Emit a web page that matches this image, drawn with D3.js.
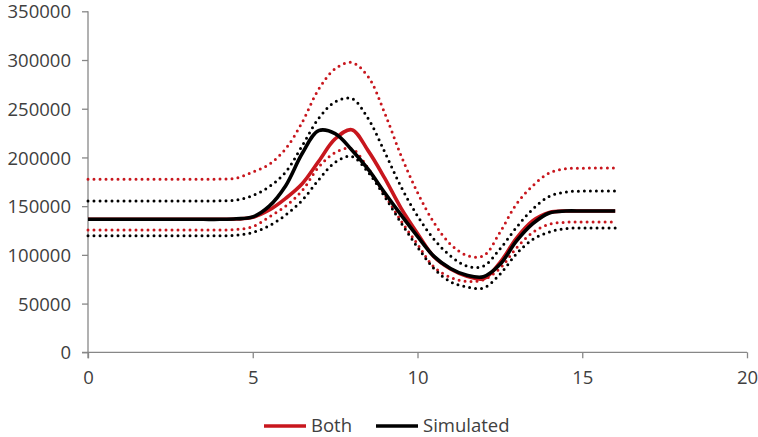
<!DOCTYPE html>
<html>
<head>
<meta charset="utf-8">
<script src="https://cdn.jsdelivr.net/npm/d3@7"></script>
<style>
  html, body { margin: 0; padding: 0; background: #ffffff; }
  svg { display: block; }
  text { font-family: "Open Sans", "Liberation Sans", sans-serif; }
</style>
</head>
<body>
<svg id="chart" width="758" height="437"></svg>
<script>
// ---- data ----
const time = [0, 0.5, 1, 1.5, 2, 2.5, 3, 3.5, 4, 4.5, 5, 5.5, 6, 6.5, 7, 7.5, 8,
              8.5, 9, 9.5, 10, 10.5, 11, 11.5, 12, 12.5, 13, 13.5, 14, 14.5, 15, 15.5, 16];

const both = [136500, 136500, 136500, 136500, 136500, 136500, 136500, 136500, 136500, 136800,
              138500, 146000, 158000, 173000, 196000, 219000, 228500,
              207000, 179000, 148000, 122000, 98000, 85500, 78000, 75500,
              92000, 117000, 135000, 143500, 145000, 145000, 145000, 145000];

const simulated = [136500, 136500, 136500, 136500, 136500, 136500, 136500, 136500, 136500, 137000,
              139000, 150000, 171000, 204000, 227500, 224500, 208000,
              188000, 164000, 141000, 119000, 98500, 86000, 79000, 77500,
              90000, 114000, 132000, 143000, 145000, 145000, 145000, 145000];

const bothUpper = [177600, 177600, 177600, 177600, 177600, 177600, 177600, 177600, 177800, 178800,
              185000, 193000, 209000, 236000, 270000, 291000, 297500,
              283000, 246000, 202000, 164000, 133000, 111000, 99500, 99000,
              123000, 152000, 171000, 184000, 188500, 189000, 189200, 189200];

const bothLower = [125600, 125600, 125600, 125600, 125600, 125600, 125600, 125600, 125600, 126000,
              129000, 139000, 150000, 166000, 190000, 205000, 209000,
              189000, 162000, 135000, 111000, 87500, 77000, 72800, 74500,
              86000, 107000, 123000, 131500, 133500, 133800, 133800, 133800];

const simUpper = [155300, 155300, 155300, 155300, 155300, 155300, 155300, 155300, 155500, 156300,
              161000, 170000, 185000, 212000, 240000, 257000, 260500,
              240000, 206000, 170000, 140000, 116000, 99000, 88500, 88500,
              106000, 128000, 147000, 160000, 164500, 165500, 165600, 165600];

const simLower = [119700, 119700, 119700, 119700, 119700, 119700, 119700, 119700, 119700, 120200,
              123000, 130000, 141000, 156000, 177000, 195000, 201000,
              185000, 160000, 133000, 108000, 86000, 72500, 67000, 66000,
              80000, 101000, 116000, 123500, 127000, 127600, 127600, 127600];

const xTicks = [0, 5, 10, 15, 20];
const yTicks = [0, 50000, 100000, 150000, 200000, 250000, 300000, 350000];
const legendLabels = ["Both", "Simulated"];

// ---- styling ----
const RED = "#C8161D";
const BLACK = "#000000";
const AXIS = "#878787";
const TEXT = "#404040";

const svg = d3.select("#chart");

const x = d3.scaleLinear().domain([0, 20]).range([88, 747]);
const y = d3.scaleLinear().domain([0, 350000]).range([352.3, 11.3]);

// axes
const yAxis = d3.axisLeft(y).tickValues(yTicks).tickSize(6).tickPadding(11)
  .tickFormat(d3.format("d"));
const gy = svg.append("g").attr("transform", "translate(88,0)").call(yAxis);
gy.select(".domain").attr("d", `M0,${y(350000)}V${y(0) + 6}`);

const xAxis = d3.axisBottom(x).tickValues(xTicks).tickSize(6).tickPadding(12)
  .tickFormat(d3.format("d"));
const gx = svg.append("g").attr("transform", `translate(0,${y(0)})`).call(xAxis);
gx.select(".domain").attr("d", `M${x(0) - 6},0H${x(20)}`);

svg.selectAll(".domain, .tick line")
  .attr("stroke", AXIS).attr("stroke-width", 1.3);
svg.selectAll(".tick text")
  .attr("fill", TEXT).style("font-size", "18.5px")
  .style("font-family", '"Open Sans", "Liberation Sans", sans-serif');
gx.selectAll(".tick text").attr("dy", "0.75em");
gy.selectAll(".tick text").attr("dy", "0.36em");

// lines
const line = vals => d3.line()
  .x((d, i) => x(time[i]))
  .y(d => y(d))
  .curve(d3.curveCatmullRom.alpha(0.5))(vals);

const dotted = [
  { v: bothUpper, c: RED },
  { v: simUpper, c: BLACK },
  { v: bothLower, c: RED },
  { v: simLower, c: BLACK }
];
dotted.forEach(s => {
  svg.append("path").attr("d", line(s.v))
    .attr("fill", "none").attr("stroke", s.c)
    .attr("stroke-width", 3).attr("stroke-linecap", "round")
    .attr("stroke-dasharray", "0 6");
});

svg.append("path").attr("d", line(both))
  .attr("fill", "none").attr("stroke", RED).attr("stroke-width", 3.6)
  .attr("stroke-linejoin", "round");
svg.append("path").attr("d", line(simulated))
  .attr("fill", "none").attr("stroke", BLACK).attr("stroke-width", 3.6)
  .attr("stroke-linejoin", "round");

// legend
const legend = [
  { label: legendLabels[0], c: RED, x0: 264 },
  { label: legendLabels[1], c: BLACK, x0: 376 }
];
const ly = 426;
legend.forEach(l => {
  svg.append("line").attr("x1", l.x0).attr("x2", l.x0 + 42)
    .attr("y1", ly).attr("y2", ly)
    .attr("stroke", l.c).attr("stroke-width", 3.6);
  svg.append("text").attr("x", l.x0 + 47).attr("y", ly)
    .attr("dy", "0.35em").attr("fill", TEXT)
    .style("font-size", "18.5px").text(l.label);
});
</script>
</body>
</html>
